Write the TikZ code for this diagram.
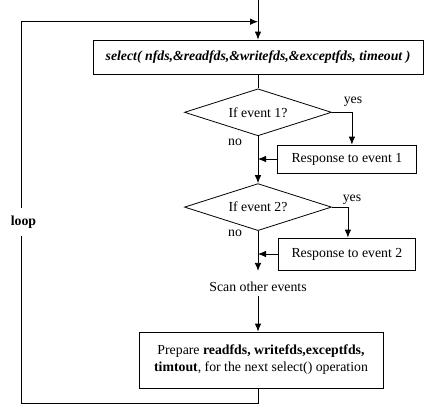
\documentclass[tikz,border=0pt]{standalone}
\usepackage{fontspec}
\setmainfont{Liberation Serif}
\usetikzlibrary{positioning,shapes.geometric,arrows.meta}

\begin{document}
\begin{tikzpicture}[
  x=1pt, y=-1pt,
  every node/.style={font=\fontsize{13.8}{17}\selectfont},
  box/.style={draw, line width=0.8pt, minimum width=139pt,
              minimum height=30pt, inner sep=2pt, align=center},
  test/.style={draw, diamond, line width=0.8pt, aspect=3.15, inner sep=0pt,
               minimum width=147pt, minimum height=47pt},
  lbl/.style={inner sep=4pt},
  line/.style={line width=0.8pt},
  >={Latex[length=8pt,width=6.5pt]}
]
\useasboundingbox (0,0) rectangle (445,410);

% Main column
\node[box, minimum width=330pt, minimum height=34pt] (sel) at (258,57)
  {\textbf{\textit{select( nfds,\&readfds,\&writefds,\&exceptfds, timeout )}}};
\node[test, below=14pt of sel] (dia1) {If event 1?};
\node[test, below=47pt of dia1] (dia2) {If event 2?};
\node[lbl] (scan) at (258,287) {Scan other events};
\node[box, minimum width=244pt, minimum height=56pt] (prep) at (261,360)
  {Prepare \textbf{readfds, writefds,exceptfds,}\\
   \textbf{timtout}, for the next select() operation};

% Responses
\node[box, minimum height=28pt, anchor=west] (res1) at (277,159) {Response to event 1};
\node[box, minimum width=137pt, minimum height=32pt, anchor=west] (res2) at (278,254) {Response to event 2};

% Labels
\node[lbl] (yes1) at (353,102) {yes};
\node[lbl] (no1) at (235,142) {no};
\node[lbl] (yes2) at (352,200) {yes};
\node[lbl] (no2) at (235,233) {no};

% Loop points
\coordinate (entry) at (258,0);
\coordinate (join) at (258,21.7);
\coordinate (corner) at (21,403);

% Connections
\draw[line,->] (entry) -- (sel);
\draw[line] (sel) -- (dia1);
\draw[line,->] (dia1.east) -| ([xshift=5pt]res1.north);
\draw[line,->] (res1.west) -- (res1.west -| dia1.south);
\draw[line,->] (dia1) -- (dia2);
\draw[line,->] (dia2.east) -| ([xshift=1pt]res2.north);
\draw[line,->] (res2.west) -- (res2.west -| dia2.south);
\draw[line,->,shorten >=7pt] (dia2) -- (scan);
\draw[line,->] (scan) -- (scan |- prep.north);
\draw[line,->] (prep.south -| scan) -- (scan |- corner) -- (corner) |- (join);

% Loop label over the return line
\node[fill=white, inner xsep=1pt, inner ysep=8pt] (loop) at (23.5,222) {\textbf{loop}};

\end{tikzpicture}
\end{document}
